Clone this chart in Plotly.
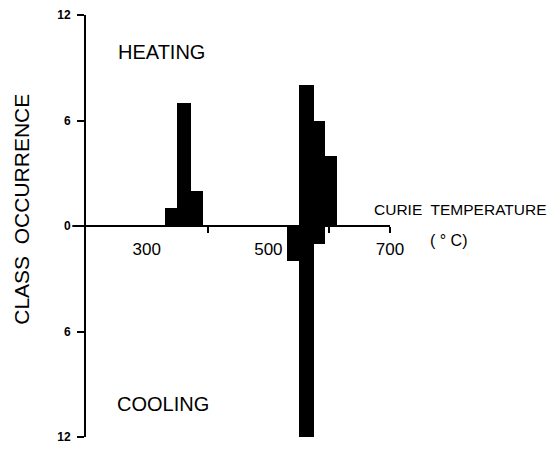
import plotly.graph_objects as go

# Histogram of Curie temperatures: bin edges (°C) and class counts
heat_lo = [330, 350, 373, 550, 575, 593]
heat_hi = [350, 373, 392, 575, 593, 612]
heat_count = [1, 7, 2, 8, 6, 4]

cool_lo = [530, 550, 575]
cool_hi = [550, 575, 593]
cool_count = [2, 12, 1]

y_tick_vals = [-12, -6, 0, 6, 12]
y_tick_text = ["12", "6", "0", "6", "12"]
x_label_vals = [300, 500, 700]
x_label_text = ["300", "500", "700"]
x_tick_vals = [400, 600, 700]

FONT = "Liberation Sans"


def centers(lo, hi):
    return [(a + b) / 2 for a, b in zip(lo, hi)]


def widths(lo, hi):
    return [b - a for a, b in zip(lo, hi)]


fig = go.Figure()
fig.add_trace(go.Bar(
    x=centers(heat_lo, heat_hi), y=heat_count, width=widths(heat_lo, heat_hi),
    marker=dict(color="black", line=dict(width=0)), showlegend=False,
))
fig.add_trace(go.Bar(
    x=centers(cool_lo, cool_hi), y=[-c for c in cool_count], width=widths(cool_lo, cool_hi),
    marker=dict(color="black", line=dict(width=0)), showlegend=False,
))

fig.update_layout(
    width=552, height=452,
    margin=dict(l=86, r=162, t=14, b=8),
    paper_bgcolor="white", plot_bgcolor="white",
    barmode="overlay", bargap=0,
    font=dict(family=FONT, color="black"),
    xaxis=dict(
        range=[200, 700], anchor="free", position=0.5,
        showline=True, linecolor="black", linewidth=2,
        showgrid=False, zeroline=False,
        tickmode="array", tickvals=x_label_vals, ticktext=x_label_text,
        ticks="", ticklabelstandoff=8,
        tickfont=dict(family=FONT, size=17, color="black"),
        minor=dict(tickmode="array", tickvals=x_tick_vals, ticks="outside",
                   ticklen=6, tickwidth=2, tickcolor="black"),
    ),
    yaxis=dict(
        range=[-12, 12],
        showline=True, linecolor="black", linewidth=2,
        showgrid=False, zeroline=False,
        tickmode="array", tickvals=y_tick_vals, ticktext=y_tick_text,
        ticks="outside", ticklen=7, tickwidth=2, tickcolor="black",
        ticklabelstandoff=4,
        tickfont=dict(family=FONT, size=12, color="black", weight="bold"),
    ),
)

# Longer tick marking the zero baseline on the occurrence axis
fig.add_shape(type="line", xref="x domain", yref="y", x0=-0.045, x1=0, y0=0, y1=0,
              line=dict(color="black", width=2))

annotations = [
    dict(text="HEATING", x=324, y=9.9, xref="x", yref="y",
         font=dict(size=20), showarrow=False),
    dict(text="COOLING", x=326, y=-10.1, xref="x", yref="y",
         font=dict(size=20), showarrow=False),
    dict(text="CURIE  TEMPERATURE", x=0.94, y=0.5395, xref="paper", yref="paper",
         xanchor="left", font=dict(size=15.5), showarrow=False),
    dict(text="( ° C)", x=1.195, y=0.465, xref="paper", yref="paper",
         xanchor="center", font=dict(size=16), showarrow=False),
    dict(text="CLASS  OCCURRENCE", x=-0.215, y=0.54, xref="paper", yref="paper",
         xanchor="center", yanchor="middle",
         textangle=-90, font=dict(size=21), showarrow=False),
]
for a in annotations:
    a["font"]["family"] = FONT
    a["font"]["color"] = "black"
    fig.add_annotation(**a)

fig.write_html("out.html")
